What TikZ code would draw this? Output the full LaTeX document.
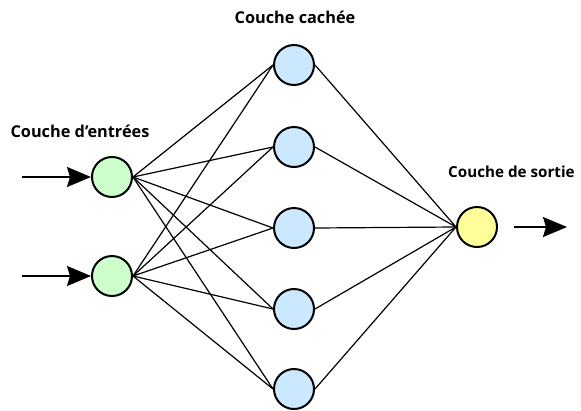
\documentclass[tikz,border=0pt]{standalone}
\usepackage{fontspec}
\setmainfont{Open Sans}
\usetikzlibrary{arrows.meta}
\begin{document}
\begin{tikzpicture}[x=1pt,y=-1pt,
    neuron/.style={circle, draw, line width=2pt, minimum size=40pt, inner sep=0pt},
    layer/.style={font=\bfseries\fontsize{16.3}{18}\selectfont},
    io/.style={line width=1.8pt, -{Stealth[length=24pt,width=20pt,inset=3pt]}}]
    \definecolor{cin}{HTML}{CCFFCC}
    \definecolor{chid}{HTML}{CCE8FF}
    \definecolor{cout}{HTML}{FFFF99}
    \useasboundingbox (0,0) rectangle (581,410);
    % couche d'entrees
    \node[neuron, fill=cin] (i1) at (112,177) {};
    \node[neuron, fill=cin] (i2) at (112,276) {};
    % couche cachee
    \node[neuron, fill=chid] (h1) at (294,65) {};
    \node[neuron, fill=chid] (h2) at (294,147) {};
    \node[neuron, fill=chid] (h3) at (294,228) {};
    \node[neuron, fill=chid] (h4) at (294,309) {};
    \node[neuron, fill=chid] (h5) at (294,389) {};
    % couche de sortie
    \node[neuron, fill=cout] (o) at (477,227) {};
    \foreach \h in {1,...,5} {
        \draw[line width=1.2pt] (i1.east) -- (h\h.west);
        \draw[line width=1.2pt] (i2.east) -- (h\h.west);
        \draw[line width=1.2pt] (h\h.east) -- (o.west);
    }
    \coordinate (a1) at (22,177);
    \coordinate (a2) at (22,276);
    \coordinate (b) at (567,227);
    \draw[io] (a1) -- (i1.west);
    \draw[io] (a2) -- (i2.west);
    \draw[io] (o.east) ++(16,0) -- (b);
    \node[layer] (l1) at (80,131) {Couche d’entrées};
    \node[layer] (l2) at (295,17) {Couche cachée};
    \node[layer, anchor=west, font=\bfseries\fontsize{15.2}{17}\selectfont, inner xsep=1pt] (l3) at (447,172) {Couche de sortie};
\end{tikzpicture}
\end{document}
